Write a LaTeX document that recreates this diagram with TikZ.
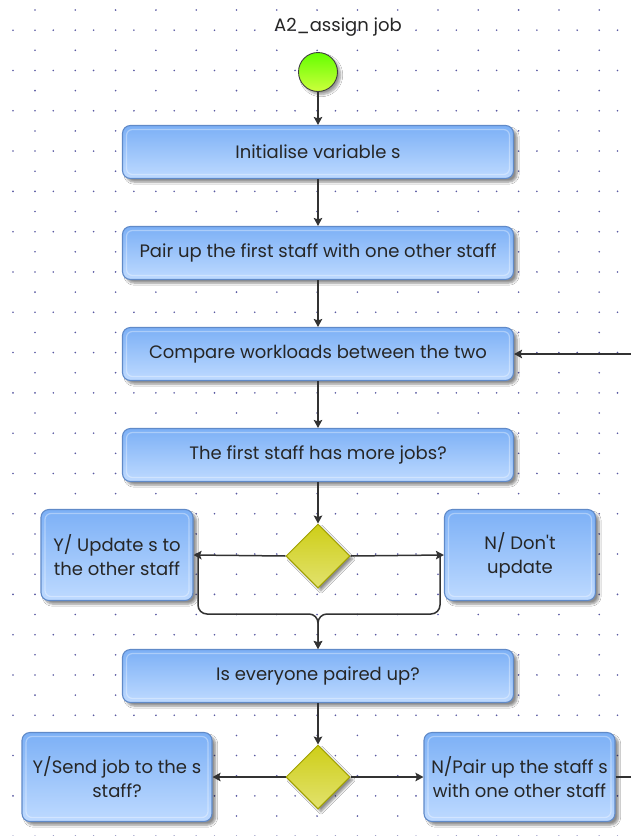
\documentclass[tikz,border=0pt]{standalone}
\usepackage{fontspec}
\setmainfont{Poppins}
\usetikzlibrary{shapes.geometric,arrows.meta,shadows.blur,calc}

\definecolor{boxtop}{RGB}{124,176,246}
\definecolor{boxbot}{RGB}{190,218,255}
\definecolor{boxline}{RGB}{96,138,200}
\definecolor{dmtop}{RGB}{206,206,24}
\definecolor{dmbot}{RGB}{226,226,110}
\definecolor{dmline}{RGB}{160,160,0}
\definecolor{griddot}{RGB}{60,60,145}
\definecolor{wire}{RGB}{50,50,50}

\tikzset{
  stepbox/.style={rectangle, rounded corners=8pt, draw=boxline, line width=1.1pt,
    top color=boxtop, bottom color=boxbot, align=center, inner sep=2pt,
    font=\fontsize{18}{24}\selectfont, text=black!85,
    blur shadow={shadow xshift=3.5pt, shadow yshift=-3.5pt, shadow blur steps=6, shadow opacity=45},
    path picture={\draw[white, opacity=0.35, line width=1.2pt, rounded corners=6pt]
      ([shift={(4pt,-4pt)}]path picture bounding box.north west) rectangle
      ([shift={(-4pt,4pt)}]path picture bounding box.south east);}},
  wide/.style={stepbox, minimum width=391pt, minimum height=53pt},
  side/.style={stepbox, minimum height=91pt},
  decide/.style={diamond, draw=dmline, line width=1pt, top color=dmtop, bottom color=dmbot,
    minimum width=64pt, minimum height=64pt, inner sep=0pt,
    blur shadow={shadow xshift=3pt, shadow yshift=-3pt, shadow blur steps=6, shadow opacity=45}},
  startdot/.style={circle, draw=black!75, line width=0.9pt, top color={rgb,255:red,100;green,255;blue,0},
    bottom color={rgb,255:red,205;green,255;blue,60}, minimum size=39pt, inner sep=0pt,
    blur shadow={shadow xshift=3pt, shadow yshift=-3pt, shadow blur steps=6, shadow opacity=40}},
  conn/.style={draw=wire, line width=1.5pt, -{Stealth[length=8pt,width=8.5pt,inset=1.5pt]}},
  plain/.style={draw=wire, line width=1.5pt}
}

\begin{document}
\begin{tikzpicture}[x=1pt, y=-1pt]
  \useasboundingbox (0,0) rectangle (630,836);
  \fill[white] (0,0) rectangle (630,836);

  % dotted background grid
  \foreach \i in {0,...,15} {
    \foreach \j in {0,...,41} {
      \fill[griddot, opacity=0.85] ({35+40.3*\i},{10+20.15*\j}) circle (0.9pt);
    }
  }
  \foreach \i in {0,...,15} {
    \foreach \j in {0,...,20} {
      \fill[griddot, opacity=0.85] ({13+40.3*\i},{30.15+40.3*\j}) circle (0.9pt);
    }
  }

  % title and start
  \node[font=\fontsize{18}{20}\selectfont, text=black!85] (title) at (338,27) {A2\_assign job};
  \node[startdot] (start) at (318,72) {};

  % main column
  \node[wide] (init) at (318,152) {Initialise variable s};
  \node[wide] (pair) at (318,253) {Pair up the first staff with one other staff};
  \node[wide] (cmp)  at (318,354) {Compare workloads between the two};
  \node[wide] (more) at (318,455) {The first staff has more jobs?};
  \node[decide] (d1) at (318,556) {};
  \node[side, minimum width=152pt] (upd)   at (117,555) {Y/ Update s to\\the other staff};
  \node[side, minimum width=151pt] (noupd) at (520,555) {N/ Don\textquotesingle t\\update};
  \node[wide] (all) at (318,676) {Is everyone paired up?};
  \node[decide] (d2) at (318,777) {};
  \node[side, minimum width=190pt, minimum height=89pt] (send) at (117,777) {Y/Send job to the s\\staff?};
  \node[side, minimum width=191pt, minimum height=89pt] (next) at (519.5,777) {N/Pair up the staff s\\with one other staff};

  % connectors
  \coordinate (loopin) at (632,354);
  \coordinate (loopout) at (632,777);
  \coordinate (bl) at (198,556);
  \coordinate (br) at (440,556);
  \coordinate (bj) at (318,614);

  \draw[conn] (start) -- (init);
  \draw[conn] (init) -- (pair);
  \draw[conn] (pair) -- (cmp);
  \draw[conn] (loopin) -- (cmp.east);
  \draw[conn] (cmp) -- (more);
  \draw[conn] (more) -- (d1);
  \draw[conn] (d1.west) -- (upd.east);
  \draw[conn] (d1.east) -- (noupd.west);
  \draw[conn, rounded corners=9pt] (bl) |- (bj) -- (all.north);
  \draw[conn, rounded corners=9pt] (br) |- (bj) -- (all.north);
  \draw[conn] (all) -- (d2);
  \draw[conn] (d2.west) -- (send.east);
  \draw[conn] (d2.east) -- (next.west);
  \draw[plain] (next.east) -- (loopout);
\end{tikzpicture}
\end{document}
